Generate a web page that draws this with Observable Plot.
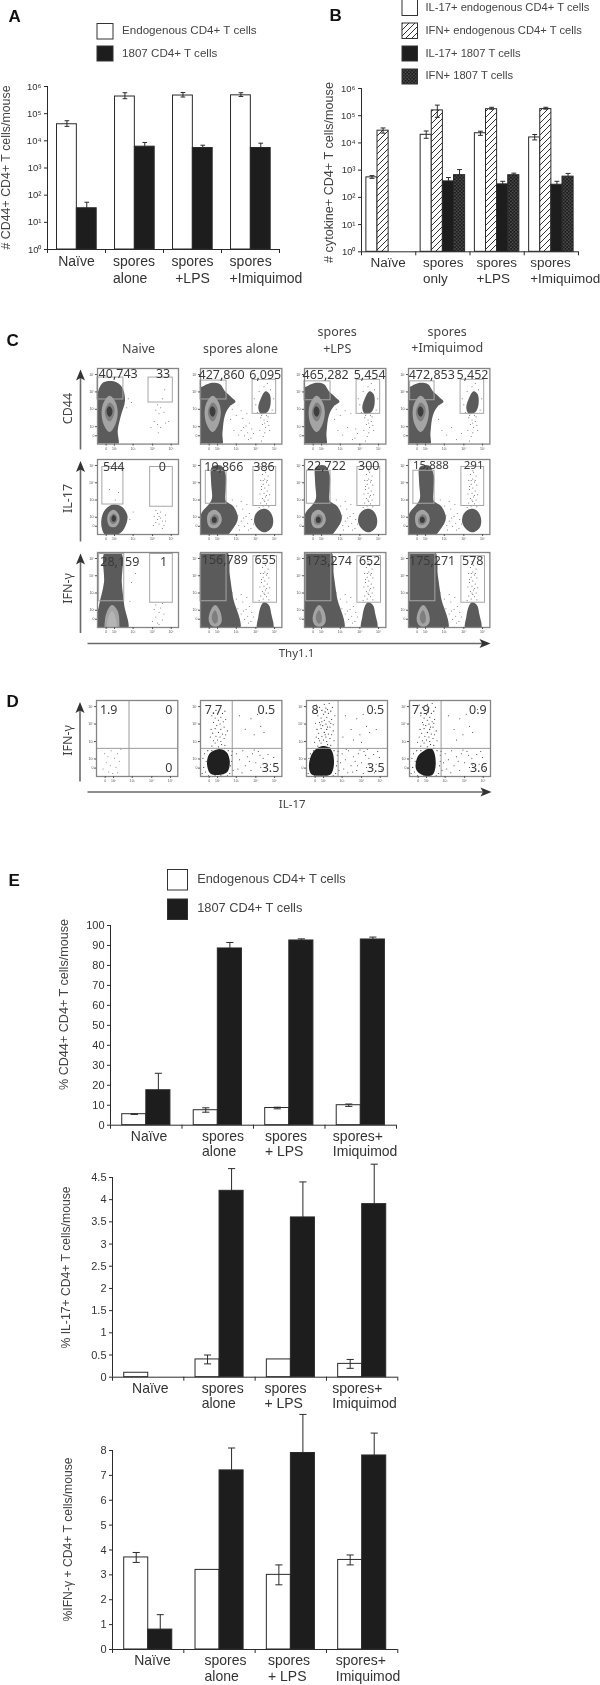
<!DOCTYPE html>
<html><head><meta charset="utf-8">
<script src="https://cdn.jsdelivr.net/npm/d3@7"></script>
<script src="https://cdn.jsdelivr.net/npm/@observablehq/plot@0.6"></script>
<style>
html,body{margin:0;padding:0;background:#fff}
#page{position:relative;width:600px;height:1685px;overflow:hidden;background:#fff;filter:blur(.35px)}
#page svg{position:absolute}
</style></head><body><div id="page"></div>
<script>
// ---------- Panel A values ----------
const aEndo=[40743,427860,465282,472853];
const aEndoHi=[55000,590000,600000,590000];
const aEndoLo=[34000,355000,410000,430000];
const a1807=[33,6095,5454,5452];
const a1807Hi=[55,8700,6900,8200];
const aLabels=["Naïve","spores\nalone","spores\n+LPS","spores\n+Imiquimod"];
// ---------- Panel B values ----------
const bIl17Endo=[544,19866,22722,15888];
const bIl17EndoHi=[630,27500,27000,20400];
const bIl17EndoLo=[500,14800,19000,12900];
const bIfnEndo=[28159,156789,173274,175271];
const bIfnEndoHi=[35500,245000,204000,204000];
const bIfnEndoLo=[22900,87000,174000,174000];
const bIl171807=[null,386,300,291];
const bIl171807Hi=[null,537,389,389];
const bIfn1807=[null,655,652,578];
const bIfn1807Hi=[null,1050,776,759];
const bLabels=["Naïve","spores\nonly","spores\n+LPS","spores\n+Imiquimod"];
// ---------- Panel E values ----------
const e1Endo=[5.5,7.5,8.6,10];
const e1EndoHi=[5.6,8.7,9,10.6];
const e1EndoLo=[5.4,6.5,8.2,9.4];
const e11807=[17.5,88.5,92.5,93];
const e11807Hi=[26,91.5,93.3,94.2];
const e2Endo=[0.1,0.4,0.4,0.3];
const e2EndoHi=[null,0.5,null,0.4];
const e2EndoLo=[null,0.3,null,0.2];
const e21807=[null,4.2,3.6,3.9];
const e21807Hi=[null,4.7,4.4,4.8];
const e3Endo=[3.7,3.2,3,3.6];
const e3EndoHi=[3.9,null,3.4,3.8];
const e3EndoLo=[3.5,null,2.6,3.4];
const e31807=[0.8,7.2,7.9,7.8];
const e31807Hi=[1.4,8.1,9.45,8.7];
const eLabels=["Naïve","spores\nalone","spores\n+ LPS","spores+\nImiquimod"];
// ---------- Panel C counts ----------
const cCd44=[["40,743","33"],["427,860","6,095"],["465,282","5,454"],["472,853","5,452"]];
const cIl17=[["544","0"],["19,866","386"],["22,722","300"],["15,888","291"]];
const cIfn=[["28,159","1"],["156,789","655"],["173,274","652"],["175,271","578"]];
// ---------- Panel D percentages ----------
const dPct=[["1.9","0","0"],["7.7","0.5","3.5"],["8","0.5","3.5"],["7.9","0.9","3.6"]];
// ---------- Flow outlines (percent of the log axes) ----------
const cd44NaiveOuter=[[8,82],[20,83],[30,76],[34,58],[29,38],[25,18],[25,-3],[-2,-3],[0,40],[0,66],[3,76]];
const cd44Ring=[[15,64],[22,56],[25,42],[22,26],[15,16],[8,25],[5,42],[8,56]];
const cd44Mid=[[15,55],[20,50],[21,42],[18,33],[15,30],[11,34],[9,42],[11,50]];
const cd44Core=[[14.5,50],[18,46],[18,40],[15,36],[12,39],[11.5,46]];
const cd44SporesOuter=[[-3,-3],[26,-3],[27,15],[30,38],[36,50],[43,56],[38,62],[30,70],[24,79],[14,81],[4,77],[-3,72]];
const cd44RightCluster=[[80,70],[85,66],[86,52],[82,42],[74,40],[71,48],[74,60]];
const il17NaiveOuter=[[20,40],[30,37],[37,25],[33,8],[25,0],[10,-1],[5,10],[6,26],[12,36]];
const il17NaiveRing=[[20,33],[26,27],[27,18],[22,10],[15,11],[12,20],[14,29]];
const il17NaiveMid=[[20,28],[24,24],[24,18],[20,14],[16,16],[15,22]];
const il17NaiveCore=[[20,26],[23,22],[21,17],[18,18],[17.5,23]];
const il17SporesOuter=[[14,90],[25,92],[31,80],[31,60],[31,45],[40,38],[46,22],[40,8],[30,-3],[-3,-3],[-3,15],[2,30],[10,40],[14,48],[13,70]];
const il17SporesRing=[[17,33],[24,28],[26,18],[20,9],[11,10],[8,20],[10,29]];
const il17SporesMid=[[17,27],[22,24],[22,17],[18,13],[13,14],[12,21]];
const il17SporesCore=[[17,24],[20,21],[19,16],[15,16],[14,21]];
const il17RightCluster=[[76,34],[84,32],[89,22],[88,10],[80,3],[72,6],[66,16],[68,28]];
const ifnNaiveOuter=[[9,100],[29,100],[30,60],[33,30],[37,-3],[-2,-3],[2,30],[8,60]];
const ifnNaiveRing=[[18,30],[25,22],[27,4],[26,-4],[10,-4],[9,8],[12,22]];
const ifnNaiveMid=[[18,22],[22,14],[23,0],[13,0],[13,12]];
const ifnSporesOuter=[[3,102],[32,102],[36,70],[40,40],[48,-3],[-3,-3],[-3,50]];
const ifnSporesRing=[[18,30],[24,22],[26,8],[22,2],[14,2],[10,10],[13,24]];
const ifnSporesMid=[[18,23],[21,16],[21,8],[18,5],[15,8],[14,16]];
const ifnRightCluster=[[78,34],[84,30],[87,18],[89,-2],[70,-2],[71,14],[74,28]];
const dCluster2=[[22,36],[32,32],[36,20],[33,6],[22,2],[12,4],[8,16],[11,30]];
const dCluster3=[[20,40],[30,36],[34,20],[30,3],[18,1],[6,3],[3,15],[8,32]];
const dCluster4=[[27,37],[31,30],[32,12],[28,2],[16,2],[8,10],[10,26],[18,34]];
// ---------- Sparse events ----------
const sparseGate=[[78,88],[80,83],[76,80],[83,78],[79,74],[74,72],[81,70],[77,67],[84,66],[79,62],[75,60],[82,58],[78,55],[73,54],[85,53],[80,50],[76,48],[83,46],[79,44],[74,42],[81,41],[77,38],[84,37],[72,36],[79,85],[82,72],[75,64],[81,52],[78,46],[77,72]];
const sparseMiddle=[[36,20],[38,8],[41,30],[43,14],[46,25],[48,6],[50,18],[52,34],[54,11],[56,24],[58,15],[60,28],[62,8],[44,38],[50,44],[57,40],[39,46],[63,20],[47,12],[53,22],[59,6],[41,18],[65,14],[37,33]];
const sparseCd44=[[74,35],[78,32],[82,30],[76,26],[80,22],[84,25],[73,18],[79,15],[77,10],[83,36],[70,42],[88,45],[68,52],[90,60],[72,70],[86,72],[78,76],[82,80],[66,60],[75,38],[81,38],[79,28],[85,18],[75,4]];
const sparseNaiveCd44=[[74,52],[78,48],[72,45],[76,40],[80,60],[83,72],[70,30],[74,26],[78,22],[84,28],[66,22],[88,30],[75,15],[82,42],[38,60],[42,55],[36,48]];
const sparseNaiveIl17=[[70,24],[74,28],[78,22],[72,16],[76,14],[80,18],[84,26],[69,12],[74,20],[78,30],[82,12],[80,8],[76,24],[72,32],[84,18],[40,20],[44,30],[22,46],[26,56],[15,60]];
const sparseNaiveIfn=[[72,14],[76,20],[80,10],[74,6],[78,26],[70,24],[82,18],[76,4],[72,30],[80,32],[68,8],[42,60],[47,72],[40,35]];
const dNaive=[[10,30],[14,26],[18,34],[22,24],[26,30],[12,18],[17,14],[24,12],[28,20],[15,6],[20,4],[8,10],[26,5],[19,92],[30,36]];
const dUpper=[[14,40],[18,44],[22,39],[26,42],[30,41],[16,47],[21,48],[25,46],[29,50],[12,52],[19,53],[24,52],[31,55],[15,57],[22,58],[27,56],[33,60],[13,62],[18,63],[25,62],[29,65],[20,67],[24,69],[16,71],[28,72],[22,74],[31,75],[18,77],[25,78],[14,80],[21,82],[27,83],[30,86],[19,87],[24,90],[16,91],[32,91],[12,94],[22,95],[28,96],[10,45],[34,47],[17,68],[30,70],[23,85],[26,65],[15,50],[20,36.5],[28,38],[33,68],[11,70],[35,80],[13,87],[26,88],[19,72],[23,55]];
const dLower=[[44,30],[48,22],[52,34],[55,14],[58,26],[62,8],[64,30],[68,18],[71,33],[74,12],[77,24],[80,7],[83,29],[86,16],[90,25],[46,10],[51,5],[60,20],[66,35],[73,28],[78,15],[88,33],[93,9],[42,18],[57,6],[70,4],[84,5],[49,36],[63,14],[75,36]];
const dUpRight=[[48,80],[55,62],[62,76],[66,55],[70,82],[74,66],[78,58],[84,88],[58,48],[68,45],[86,62],[45,52]];
const dHalo=[[5,30],[7,20],[4,12],[6,6],[38,28],[37,14],[36,4],[34,34],[30,37],[14,34],[9,34],[38,20],[2,4],[40,8],[3,24],[10,1],[25,1],[33,1],[18,1],[39,33]];
// ---------- Layout of the plots on the page ----------
const flowCols=[[96.7,177.7],[200.3,281.7],[304.3,385.7],[408.3,489.7]];
const flowRows=[[367.7,443.3],[459.3,534.3],[551.7,626.7]];
const dCols=[[96,177.3],[200.3,281.7],[306.3,387.3],[409,490]];
const page=document.getElementById("page");
const transparent={background:"transparent",overflow:"visible",fontFamily:"'Liberation Sans',Arial,sans-serif"};
function put(svg,left,top){svg.style.left=left+"px";svg.style.top=top+"px";svg.style.maxWidth="none";page.appendChild(svg);}
const supers={1:"¹",2:"²",3:"³",4:"⁴",5:"⁵",6:"⁶"};
const powerFormat=d=>d===1?"10⁰":"10"+supers[Math.round(Math.log10(d))];

function bars(c){
  const ml=60,mr=30,mt=44,mb=50;
  const W=c.x1-c.x0,H=c.yB-c.yT;
  const base=c.domain[0];
  const rows=c.series.flatMap(s=>s.values.map((v,g)=>({g,v,lo:s.lo?s.lo[g]:null,hi:s.hi?s.hi[g]:null,slot:s.slot,fill:s.fill}))).filter(d=>d.v!=null);
  const left=d=>d.g+c.pad+d.slot*c.bw, right=d=>left(d)+c.bw, mid=d=>left(d)+c.bw/2;
  const ink="#2a2a2a";
  const marks=[
    Plot.rect(rows,{x1:left,x2:right,y1:()=>base,y2:"v",fill:"fill",stroke:ink,strokeWidth:1}),
    Plot.link(rows.filter(d=>d.hi!=null),{x1:mid,x2:mid,y1:d=>d.lo!=null?d.lo:d.v,y2:"hi",stroke:ink,strokeWidth:1}),
    Plot.link(rows.filter(d=>d.hi!=null),{x1:d=>mid(d)-c.cap,x2:d=>mid(d)+c.cap,y1:"hi",y2:"hi",stroke:ink,strokeWidth:1}),
    Plot.link(rows.filter(d=>d.lo!=null),{x1:d=>mid(d)-c.cap,x2:d=>mid(d)+c.cap,y1:"lo",y2:"lo",stroke:ink,strokeWidth:1}),
    Plot.ruleX([0],{stroke:ink,strokeWidth:1}),
    Plot.ruleY([base],{stroke:ink,strokeWidth:1}),
    Plot.axisY({ticks:c.ticks,tickFormat:c.fmt,tickSize:3,tickPadding:c.tickPad??3,fontSize:c.tickFont,label:null,color:"#333",stroke:ink}),
    Plot.axisX({ticks:[0,1,2,3,4],tickFormat:()=>"",tickSize:4,label:null,stroke:ink}),
    Plot.text(c.labels.map((t,g)=>({t,x:c.labelX[g],a:c.labelA[g]})).filter(d=>d.a==="start"),{x:"x",y:()=>base,text:"t",textAnchor:"start",lineAnchor:"top",dy:c.labelDy,fontSize:c.labelFont,lineHeight:c.lineH,fill:"#333"}),
    Plot.text(c.labels.map((t,g)=>({t,x:c.labelX[g],a:c.labelA[g]})).filter(d=>d.a==="middle"),{x:"x",y:()=>base,text:"t",textAnchor:"middle",lineAnchor:"top",dy:c.labelDy,fontSize:c.labelFont,lineHeight:c.lineH,fill:"#333"})
  ];
  const svg=Plot.plot({width:W+ml+mr,height:H+mt+mb,marginLeft:ml,marginRight:mr,marginTop:mt,marginBottom:mb,
    x:{type:"linear",domain:[0,4]},y:{type:c.type,domain:c.domain},style:transparent,marks});
  put(svg,c.x0-ml,c.yT-mt);
}
const white="#fff",black="#1d1d1d";
bars({x0:47,x1:279,yT:86,yB:249,type:"log",domain:[1,1e6],ticks:[1,10,100,1e3,1e4,1e5,1e6],fmt:powerFormat,tickFont:9.5,pad:.164,bw:.342,cap:.04,
  series:[{values:aEndo,lo:aEndoLo,hi:aEndoHi,slot:0,fill:white},{values:a1807,hi:a1807Hi,slot:1,fill:black}],
  labels:aLabels,labelX:[.5,1.13,2.5,3.14],labelA:["middle","start","middle","start"],labelDy:5,labelFont:14,lineH:1.2});
bars({x0:360.7,x1:577.7,yT:88,yB:251.3,type:"log",domain:[1,1e6],ticks:[1,10,100,1e3,1e4,1e5,1e6],fmt:powerFormat,tickFont:9.5,pad:.09,bw:.205,cap:.045,
  series:[{values:bIl17Endo,lo:bIl17EndoLo,hi:bIl17EndoHi,slot:0,fill:white},{values:bIfnEndo,lo:bIfnEndoLo,hi:bIfnEndoHi,slot:1,fill:"url(#hatch)"},{values:bIl171807,hi:bIl171807Hi,slot:2,fill:black},{values:bIfn1807,hi:bIfn1807Hi,slot:3,fill:"url(#dots)"}],
  labels:bLabels,labelX:[.49,1.135,2.12,3.11],labelA:["middle","start","start","start"],labelDy:4,labelFont:13.5,lineH:1.2});
bars({x0:110.3,x1:396.3,yT:925.3,yB:1125,type:"linear",domain:[0,100],ticks:d3.range(0,101,10),fmt:d=>String(d),tickFont:11,pad:.164,bw:.337,cap:.05,
  series:[{values:e1Endo,lo:e1EndoLo,hi:e1EndoHi,slot:0,fill:white},{values:e11807,hi:e11807Hi,slot:1,fill:black}],
  labels:eLabels,labelX:[.54,1.28,2.16,3.11],labelA:["middle","start","start","start"],labelDy:4,labelFont:14,lineH:1.14});
bars({x0:111.7,x1:397,yT:1177.3,yB:1377,type:"linear",domain:[0,4.5],ticks:d3.range(0,4.6,.5),fmt:d=>String(d),tickFont:11,pad:.164,bw:.337,cap:.05,
  series:[{values:e2Endo,lo:e2EndoLo,hi:e2EndoHi,slot:0,fill:white},{values:e21807,hi:e21807Hi,slot:1,fill:black}],
  labels:eLabels,labelX:[.53,1.25,2.13,3.08],labelA:["middle","start","start","start"],labelDy:4,labelFont:14,lineH:1.14});
bars({x0:111.7,x1:397,yT:1450,yB:1649,type:"linear",domain:[0,8],ticks:d3.range(0,9),fmt:d=>String(d),tickFont:11,pad:.164,bw:.337,cap:.05,
  series:[{values:e3Endo,lo:e3EndoLo,hi:e3EndoHi,slot:0,fill:white},{values:e31807,hi:e31807Hi,slot:1,fill:black}],
  labels:eLabels,labelX:[.56,1.29,2.18,3.13],labelA:["middle","start","start","start"],labelDy:4,labelFont:14,lineH:1.14});

// ---------- Flow panels ----------
const X=d=>d[0],Y=d=>d[1];
const shape=(pts,fill)=>Plot.line(pts,{x:X,y:Y,fill,stroke:"none",curve:"catmull-rom-closed",clip:true});
const events=(pts,fill="#333",r=.5)=>Plot.dot(pts,{x:X,y:Y,r,fill,stroke:"none",clip:true});
const gate=g=>Plot.rect([g],{x1:d=>d[0],x2:d=>d[1],y1:d=>d[2],y2:d=>d[3],fill:"none",stroke:"#a6a6a6",strokeWidth:1});
function flow(col,row,layers,overlays,labels,fontSize=12.5){
  const ml=18,mr=3,mt=3,mb=11;
  const [x0,x1]=col,[y0,y1]=row;
  const svg=Plot.plot({width:x1-x0+ml+mr,height:y1-y0+mt+mb,marginLeft:ml,marginRight:mr,marginTop:mt,marginBottom:mb,
    x:{domain:[0,100]},y:{domain:[0,100]},style:transparent,
    marks:[...layers,...overlays,
      Plot.frame({stroke:"#858585",strokeWidth:1.3}),
      Plot.axisX({ticks:[10.7,21,44,68,91],tickFormat:d=>({10.7:"0",21:"10²",44:"10³",68:"10⁴",91:"10⁵"})[d],tickSize:2,tickPadding:1,fontSize:3.5,label:null,color:"#555"}),
      Plot.axisY({ticks:[11,23,46,69,92],tickFormat:d=>({11:"0",23:"10²",46:"10³",69:"10⁴",92:"10⁵"})[d],tickSize:2,tickPadding:1,fontSize:3.5,label:null,color:"#555"}),
      Plot.text(labels,{x:d=>d[1],y:d=>d[2],text:d=>d[0],fontSize,fill:"#3a3a3a",fontFamily:"'Noto Sans',sans-serif"})
    ]});
  put(svg,x0-ml,y0-mt);
}
const G1="#5b5b5b",G2="#a4a4a4",G3="#7f7f7f",G4="#3d3d3d",G5="#b5b5b5";
const cd44Layers=o=>[shape(o,G1),shape(cd44Ring,G2),shape(cd44Mid,G3),shape(cd44Core,G4)];
const il17SporesLayers=[shape(il17SporesOuter,G1),shape(il17SporesRing,G2),shape(il17SporesMid,G3),shape(il17SporesCore,G4)];
const ifnSporesLayers=[shape(ifnSporesOuter,G1),shape(ifnSporesRing,G2),shape(ifnSporesMid,G3)];
// row 1: CD44
const cd44LeftGate=[[0,32,59,88],[0,32,59,84],[0,32,58,83],[2,32,58,83]];
const cd44RightGate=[[63,93,55,88],[64,93,40,85],[64,93,40,85],[64,93,40,85]];
const cd44Pos=[[25.5,81,92.5],[26,79.5,91],[26,80,91],[28.6,78.7,91.5]];
// row 2: IL-17
const il17LeftGate=[[6,32,40,90],[6.5,32,41,85],[3,32,41,85],[6,32,41,85]];
const il17RightGate=[[65,93,37,90],[65,93,38,90],[65,93,38,90],[65,93,38,90]];
const il17Pos=[[20,80,90],[28.7,78,90],[27,79,91],[27.5,80,92]];
// row 3: IFN-γ
const ifnLeftGate=[[2,33,35,98],[0,32,35,98],[2,33,35,98],[2,33,35,98]];
const ifnRightGate=[[65,93,33,98],[65,94,33,95],[65,94,33,95],[65,94,33,95]];
const ifnPos=[[27.5,81.5,88],[30,79.5,90],[30,80,88],[29,79,89]];
const lab=(names,pos)=>[[names[0],pos[0],pos[2]],[names[1],pos[1],pos[2]]];
[0,1,2,3].forEach(i=>{
  flow(flowCols[i],flowRows[0],
    i===0?[shape(cd44NaiveOuter,G1),shape(cd44Ring,G2),shape(cd44Mid,G3),shape(cd44Core,G4),events(sparseNaiveCd44,"#666")]
         :[...cd44Layers(cd44SporesOuter),shape(cd44RightCluster,G1),events(sparseMiddle.slice(i*6),"#666"),events(sparseCd44,"#555")],
    [gate(cd44LeftGate[i]),gate(cd44RightGate[i])],lab(cCd44[i],cd44Pos[i]));
  flow(flowCols[i],flowRows[1],
    i===0?[shape(il17NaiveOuter,G1),shape(il17NaiveRing,G2),shape(il17NaiveMid,G3),shape(il17NaiveCore,G4),events(sparseNaiveIl17,"#666")]
         :[...il17SporesLayers,shape(il17RightCluster,G1),events(sparseMiddle,"#666"),events(sparseGate,"#555")],
    [gate(il17LeftGate[i]),gate(il17RightGate[i])],lab(cIl17[i],il17Pos[i]),i===3?11.5:12.5);
  flow(flowCols[i],flowRows[2],
    i===0?[shape(ifnNaiveOuter,G1),shape(ifnNaiveRing,G2),shape(ifnNaiveMid,G5),events(sparseNaiveIfn,"#666")]
         :[...ifnSporesLayers,shape(ifnRightCluster,G1),events(sparseMiddle,"#666"),events(sparseGate,"#555")],
    [gate(ifnLeftGate[i]),gate(ifnRightGate[i])],lab(cIfn[i],ifnPos[i]));
});
// panel D
const dVert=[40,39,39,39];
const dClusters=[null,dCluster2,dCluster3,dCluster4];
const dPos=[[15,89,89],[16,81,86],[10.7,85,85.5],[14,84.5,85.5]];
dCols.forEach((col,i)=>{
  const layers=i===0?[events(dNaive,"#666")]:[
    events(dUpper.slice(0,[0,34,56,46][i]),"#222",.55),
    events(dLower.slice(0,[0,20,30,24][i]),"#222",.5),
    events(dUpRight.slice(0,[0,7,12,9][i]),"#222",.5),
    shape(dClusters[i],"#202020"),
    events(dHalo,"#222",.55)];
  const p=dPos[i],t=dPct[i];
  flow(col,[700,776],layers,[
    Plot.ruleX([dVert[i]],{stroke:"#9a9a9a",strokeWidth:1}),
    Plot.ruleY([37],{stroke:"#9a9a9a",strokeWidth:1})],
    [[t[0],p[0],87],[t[1],p[1],87],[t[2],p[2],11]],12.5);
});

// ---------- Page annotations: letters, legends, headings, arrows ----------
const L=(t,x,y,o={})=>Plot.text([{t,x,y}],{x:"x",y:"y",text:"t",fill:"#3a3a3a",...o});
const letter=(t,x,y)=>L(t,x,y,{fontSize:17,fontWeight:"bold",fill:"#111",textAnchor:"start"});
const swatch=(x1,x2,y1,y2,fill)=>Plot.rect([{x1,x2,y1,y2}],{x1:"x1",x2:"x2",y1:"y1",y2:"y2",fill,stroke:"#333",strokeWidth:1});
const legendText=(t,x,y,s)=>L(t,x,y,{fontSize:s,textAnchor:"start",fill:"#444"});
const yTitle=(t,x,y,s)=>L(t,x,y,{fontSize:s,rotate:-90,fill:"#444"});
const head=(t,x,y,s=12.5)=>L(t,x,y,{fontSize:s,fontFamily:"'Noto Sans',sans-serif",fill:"#444"});
const rowTitle=(t,x,y)=>L(t,x,y,{fontSize:12.5,rotate:-90,fontFamily:"'Noto Sans',sans-serif",fill:"#444"});
const shaft=(x1,y1,x2,y2)=>Plot.link([{x1,y1,x2,y2}],{x1:"x1",y1:"y1",x2:"x2",y2:"y2",stroke:"#6a6a6a",strokeWidth:1.6});
const tri=pts=>Plot.line(pts,{x:X,y:Y,fill:"#333",stroke:"none",curve:"linear-closed"});
const arrowUp=(x,yb,yt)=>[shaft(x,yb,x,yt+6),tri([[x,yt],[x-4.5,yt+11],[x,yt+8.5],[x+4.5,yt+11]])];
const arrowRight=(xa,xb,y)=>[shaft(xa,y,xb-6,y),tri([[xb,y],[xb-11,y-4.5],[xb-8.5,y],[xb-11,y+4.5]])];
function patterns(){
  const ns="http://www.w3.org/2000/svg";
  const g=document.createElementNS(ns,"defs");
  g.innerHTML=`<pattern id="hatch" patternUnits="userSpaceOnUse" width="6" height="6">
  <rect width="6" height="6" fill="#fff"/><path d="M-1.5,1.5 L1.5,-1.5 M0,6 L6,0 M4.5,7.5 L7.5,4.5" stroke="#333" stroke-width="1"/></pattern>
  <pattern id="dots" patternUnits="userSpaceOnUse" width="3.4" height="3.4">
  <rect width="3.4" height="3.4" fill="#1d1d1d"/><circle cx=".85" cy=".85" r=".5" fill="#ddd"/><circle cx="2.55" cy="2.55" r=".5" fill="#ddd"/></pattern>`;
  return g;
}
const annot=Plot.plot({width:600,height:1685,margin:0,x:{type:"identity"},y:{type:"identity"},style:transparent,marks:[
  patterns,
  letter("A",8,16),letter("B",329,15),letter("C",6,340),letter("D",6,701),letter("E",8,880),
  swatch(97,113,23.5,39,white),swatch(97,113,46,61,black),
  legendText("Endogenous CD4+ T cells",121.5,29.5,11.6),legendText("1807 CD4+ T cells",121.5,52.5,11.6),
  swatch(402,417.5,-1,15.5,white),swatch(402,417.5,23,38.5,"url(#hatch)"),swatch(402,417.5,46,61,black),swatch(402,417.5,69,84,"url(#dots)"),
  legendText("IL-17+ endogenous CD4+ T cells",425,7,11.2),legendText("IFN+ endogenous CD4+ T cells",425,29.5,11.2),legendText("IL-17+ 1807 T cells",425,52.5,11.2),legendText("IFN+ 1807 T cells",425,75,11.2),
  swatch(167.5,187.5,869.5,890,white),swatch(167.5,187.5,899,919.5,black),
  legendText("Endogenous CD4+ T cells",196.7,878.5,12.8),legendText("1807 CD4+ T cells",196.7,907.5,12.8),
  yTitle("# CD44+ CD4+ T cells/mouse",6,167,12.4),
  yTitle("# cytokine+ CD4+ T cells/mouse",328,172,12.6),
  yTitle("% CD44+ CD4+ T cells/mouse",63,1004,12.6),
  yTitle("% IL-17+ CD4+ T cells/mouse",66,1267,12.2),
  yTitle("%IFN-γ + CD4+ T cells/mouse",68,1539,12.2),
  head("Naive",138,348),head("spores alone",240,348),head("spores",336.7,331),head("+LPS",336.7,348),head("spores",446.7,331),head("+Imiquimod",446.7,347),
  rowTitle("CD44",67,408),rowTitle("IL-17",67,498),rowTitle("IFN-γ",67,588),rowTitle("IFN-γ",67,740),
  head("Thy1.1",296,652.7,11.5),head("IL-17",291.7,804,11.5),
  ...arrowUp(80,449,369),...arrowUp(80,541,460.5),...arrowUp(80,632.5,553),...arrowUp(79.5,781,701.5),
  ...arrowRight(87,490,643),...arrowRight(87,491,791.5)
]});
put(annot,0,0);
</script></body></html>
